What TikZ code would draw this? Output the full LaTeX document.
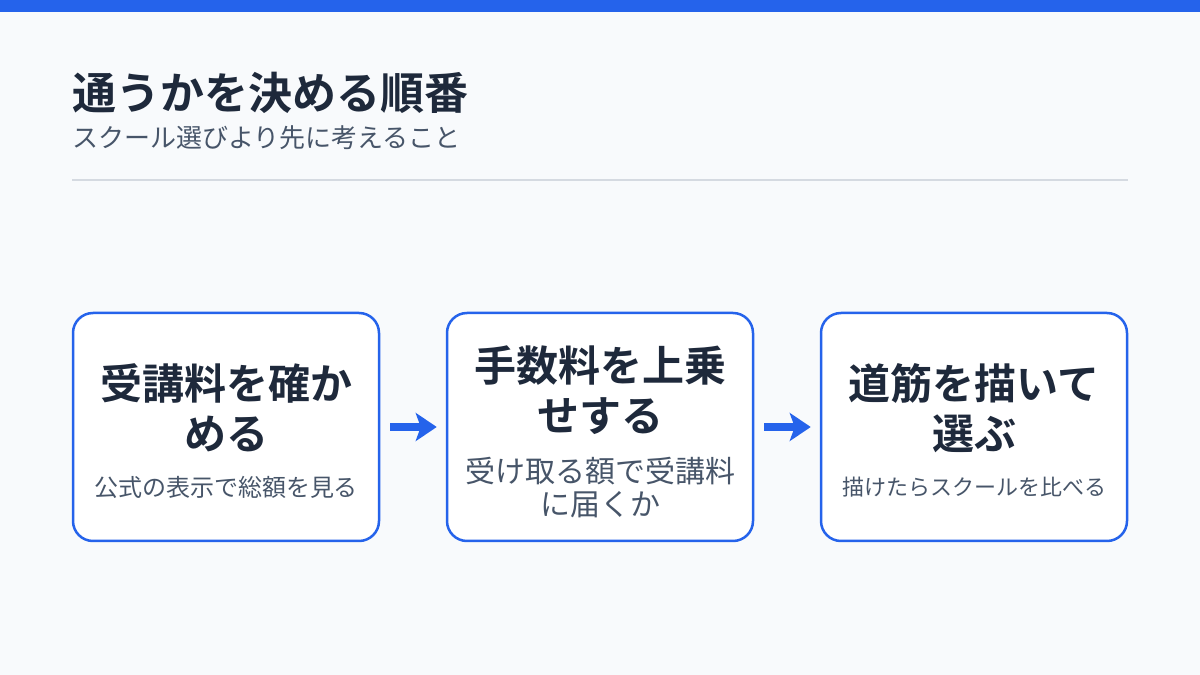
\documentclass[tikz,border=0pt]{standalone}
\usepackage{fontspec}
\setmainfont{Noto Sans CJK JP}[BoldFont={Noto Sans CJK JP Bold}]
\usepackage{tikz}
\usetikzlibrary{arrows.meta,positioning}
\definecolor{bluemain}{HTML}{2563EB}
\definecolor{pagebg}{HTML}{F8FAFC}
\definecolor{ink}{HTML}{1E293B}
\definecolor{slate}{HTML}{475569}
\definecolor{rulegray}{HTML}{D5DAE1}
\tikzset{
  stepbox/.style={draw=bluemain, line width=2.5pt, fill=white, rounded corners=20pt,
    minimum width=306pt, minimum height=228pt, inner sep=0pt},
  headtext/.style={font=\bfseries\fontsize{42}{50}\selectfont, text=ink, align=center, inner sep=0pt},
  subtext/.style={text=slate, align=center, inner sep=0pt},
  flow/.style={draw=bluemain, line width=8pt, -{Stealth[length=21pt,width=28pt,inset=5pt]},
    shorten <=10pt, shorten >=9pt}
}

\begin{document}
\begin{tikzpicture}[x=1pt,y=1pt]
\useasboundingbox (0,0) rectangle (1200,675);
\fill[pagebg] (0,0) rectangle (1200,675);
\fill[bluemain] (0,663) rectangle (1200,675);
% title block
\node[anchor=west, inner sep=0pt, text=ink, font=\bfseries\fontsize{44}{50}\selectfont] (title) at (72,582) {通うかを決める順番};
\node[anchor=west, inner sep=0pt, text=slate, font=\fontsize{26}{30}\selectfont] (subtitle) at (72,537) {スクール選びより先に考えること};
\draw[rulegray, line width=1.5pt] (72,495) -- (1128,495);
% the three steps
\node[stepbox] (fee) at (226,248) {};
\node[stepbox, right=65.5pt of fee] (fees) {};
\node[stepbox, right=65.5pt of fees] (path) {};
\node[headtext] (feehead) at ([yshift=19pt]fee.center) {受講料を確か\\める};
\node[subtext, font=\fontsize{24}{33}\selectfont] (feesub) at ([yshift=-60pt]fee.center) {公式の表示で総額を見る};
\node[headtext] (feeshead) at ([yshift=37pt]fees.center) {手数料を上乗\\せする};
\node[subtext, font=\fontsize{30}{33}\selectfont] (feessub) at ([yshift=-61pt]fees.center) {受け取る額で受講料\\に届くか};
\node[headtext] (pathhead) at ([yshift=19pt]path.center) {道筋を描いて\\選ぶ};
\node[subtext, font=\fontsize{22}{33}\selectfont] (pathsub) at ([yshift=-60pt]path.center) {描けたらスクールを比べる};
% arrows between steps
\draw[flow] (fee) -- (fees);
\draw[flow] (fees) -- (path);
\end{tikzpicture}
\end{document}
